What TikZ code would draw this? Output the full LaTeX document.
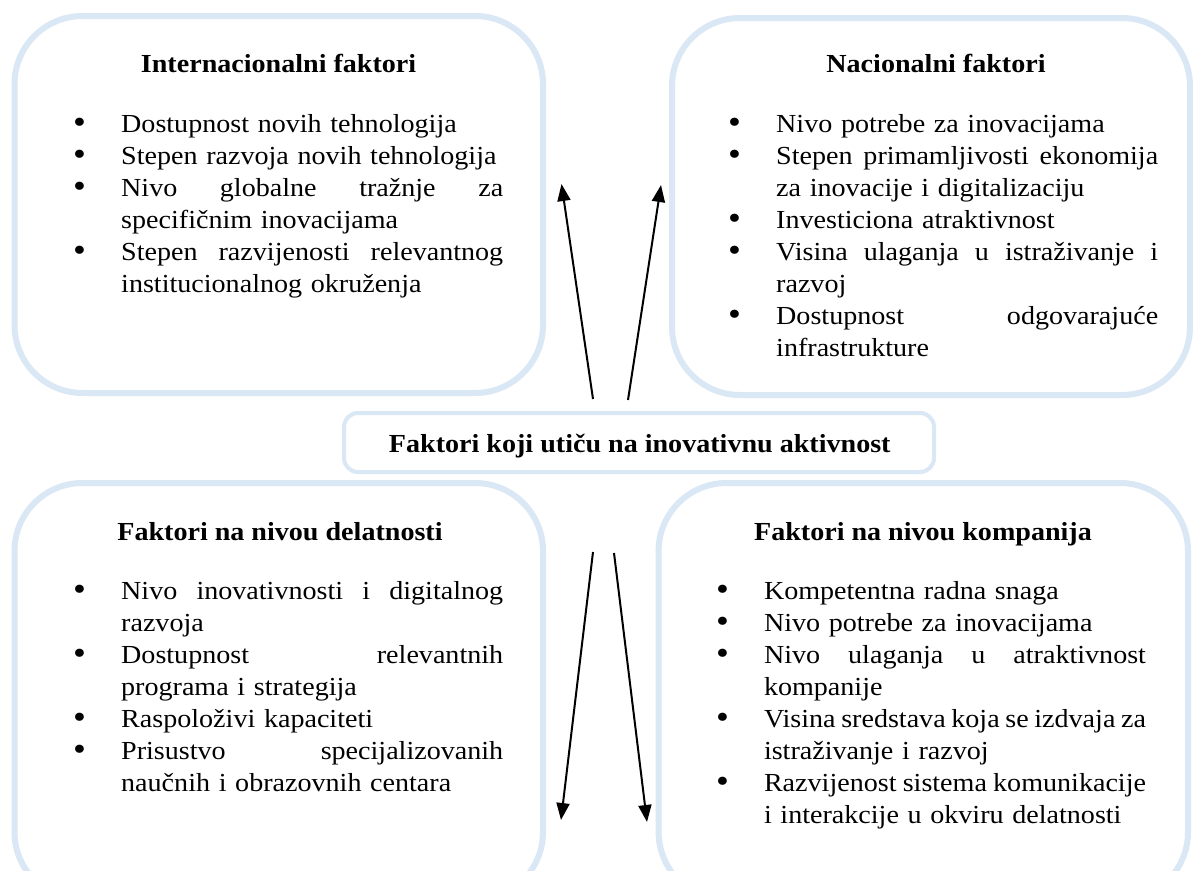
\documentclass[tikz,border=0pt]{standalone}
\usepackage{fontspec}
\setmainfont[FakeStretch=1.08]{Liberation Serif}
\usetikzlibrary{arrows.meta}
\definecolor{boxblue}{RGB}{218,231,245}
\newcommand{\itemdot}{\noindent\llap{\hbox to 48pt{\raisebox{-1.2pt}{\fontsize{34}{32}\selectfont •}\hss}}}
\newcommand{\justline}[1]{\hbox to 382pt{\spaceskip=0.12em plus 1fil\relax #1}}
\tikzset{
  bigbox/.style={draw=boxblue, line width=6pt, rounded corners=68pt},
  midbox/.style={draw=boxblue, line width=4pt, rounded corners=14pt},
  ttl/.style={font=\fontsize{26}{32}\selectfont\bfseries, anchor=base, inner sep=0pt},
  lst/.style={font=\fontsize{26}{32}\selectfont, anchor=base west, text width=382pt, inner sep=0pt},
  arr/.style={line width=2pt, -{Triangle[length=17pt,width=13pt]}}
}
\begin{document}
\begin{tikzpicture}[x=1pt,y=-1pt]
\useasboundingbox (0,0) rectangle (1193,870);
\clip (0,0) rectangle (1193,870);
\fill[white] (0,0) rectangle (1193,870);
% boxes
\draw[bigbox] (14.5,16) rectangle (543,393);
\draw[bigbox] (672,18) rectangle (1190,395);
\draw[midbox] (344,413) rectangle (934,472);
\draw[bigbox] (14.5,483) rectangle (543,900);
\draw[bigbox] (658.6,483) rectangle (1188,900);
% titles
\node[ttl] (t1) at (278.6,72.5) {Internacionalni faktori};
\node[ttl] (t2) at (936,72.5) {Nacionalni faktori};
\node[ttl] (t3) at (280,540) {Faktori na nivou delatnosti};
\node[ttl] (t4) at (923,540) {Faktori na nivou kompanija};
\node[ttl] (c) at (639.8,452) {Faktori koji utiču na inovativnu aktivnost};
% lists
\node[lst] (l1) at (121,132) {\itemdot Dostupnost novih tehnologija\par
\itemdot Stepen razvoja novih tehnologija\par
\itemdot\justline{Nivo globalne tražnje za}\par
\noindent specifičnim inovacijama\par
\itemdot\justline{Stepen razvijenosti relevantnog}\par
\noindent institucionalnog okruženja};
\node[lst] (l2) at (776,132) {\itemdot Nivo potrebe za inovacijama\par
\itemdot\justline{Stepen primamljivosti ekonomija}\par
\noindent za inovacije i digitalizaciju\par
\itemdot Investiciona atraktivnost\par
\itemdot\justline{Visina ulaganja u istraživanje i}\par
\noindent razvoj\par
\itemdot\justline{Dostupnost odgovarajuće}\par
\noindent infrastrukture};
\node[lst] (l3) at (121,599) {\itemdot\justline{Nivo inovativnosti i digitalnog}\par
\noindent razvoja\par
\itemdot\justline{Dostupnost relevantnih}\par
\noindent programa i strategija\par
\itemdot Raspoloživi kapaciteti\par
\itemdot\justline{Prisustvo specijalizovanih}\par
\noindent naučnih i obrazovnih centara};
\node[lst] (l4) at (763.8,599) {\itemdot Kompetentna radna snaga\par
\itemdot Nivo potrebe za inovacijama\par
\itemdot\justline{Nivo ulaganja u atraktivnost}\par
\noindent kompanije\par
\itemdot\justline{Visina sredstava koja se izdvaja za}\par
\noindent istraživanje i razvoj\par
\itemdot\justline{Razvijenost sistema komunikacije}\par
\noindent i interakcije u okviru delatnosti};
% arrows
\coordinate (a1s) at (593,399);
\coordinate (a1e) at (561.5,184);
\coordinate (a2s) at (628,400);
\coordinate (a2e) at (661,185);
\coordinate (a3s) at (593,552);
\coordinate (a3e) at (561,820);
\coordinate (a4s) at (614,553);
\coordinate (a4e) at (647,822);
\draw[arr] (a1s) -- (a1e);
\draw[arr] (a2s) -- (a2e);
\draw[arr] (a3s) -- (a3e);
\draw[arr] (a4s) -- (a4e);
\end{tikzpicture}
\end{document}
